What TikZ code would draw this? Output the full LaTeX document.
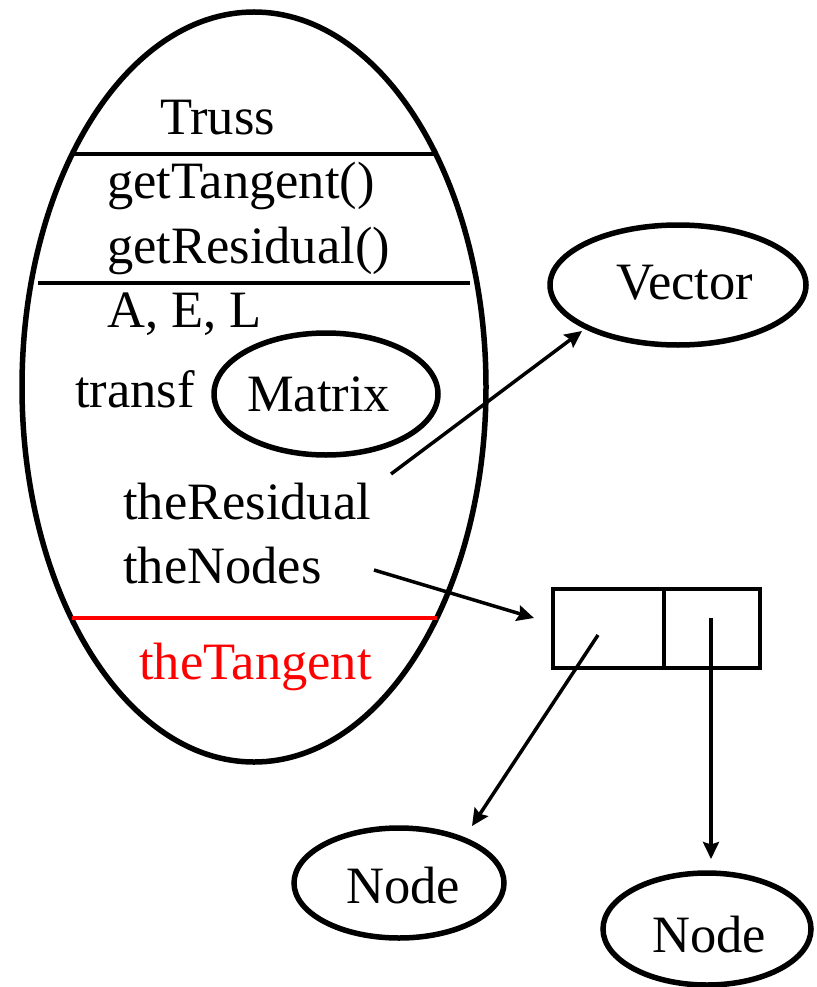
\documentclass[tikz,border=0pt]{standalone}
\usepackage{fontspec}
\setmainfont{Liberation Serif}
\usetikzlibrary{shapes.geometric,arrows.meta}
\tikzset{
  oval/.style={ellipse, draw, line width=5.5pt, inner sep=0pt},
  txt/.style={anchor=base west, inner sep=0pt, font=\rmfamily\fontsize{52.5}{64}\selectfont},
  divider/.style={line width=4.5pt},
  ptr/.style={line width=3.5pt, -{Stealth[length=17pt, width=16pt, inset=2.5pt]}},
  cell/.style={draw, line width=4pt, inner sep=0pt, anchor=north west},
}
\begin{document}
\begin{tikzpicture}[x=1pt, y=-1pt]
\useasboundingbox (0,0) rectangle (816,987);

% Truss object
\node[oval, minimum width=464pt, minimum height=750pt] (truss) at (254,387) {};
\coordinate (d1l) at (74,154);  \coordinate (d1r) at (434,154);
\coordinate (d2l) at (38,283);  \coordinate (d2r) at (470,283);
\coordinate (d3l) at (72,618);  \coordinate (d3r) at (437,618);
\draw[divider] (d1l) -- (d1r);
\draw[divider] (d2l) -- (d2r);
\draw[divider, red] (d3l) -- (d3r);

\node[txt] (name) at (160,135) {Truss};
\node[txt] (m1) at (107,199) {getTangent()};
\node[txt] (m2) at (107,263) {getResidual()};
\node[txt] (aeL) at (107,327) {A, E, L};
\node[txt] (transf) at (75,407) {transf};
\node[oval, minimum width=224pt, minimum height=122pt] (matrix) at (326,394) {};
\node[txt] (matrixlbl) at (247,411) {Matrix};
\node[txt] (res) at (123,519) {theResidual};
\node[txt] (nodes) at (123,583) {theNodes};
\node[txt, text=red] (tang) at (139,679) {theTangent};

% Vector object
\node[oval, minimum width=256pt, minimum height=120pt] (vector) at (678,285) {};
\node[txt] (vectorlbl) at (616,299) {Vector};

% Array of node pointers
\node[cell, minimum width=111pt, minimum height=79pt] (cellA) at (551,587) {};
\node[cell, minimum width=96pt, minimum height=79pt] (cellB) at (662,587) {};

% Node objects
\node[oval, minimum width=210pt, minimum height=110pt] (node1) at (399,883) {};
\node[txt] (node1lbl) at (346,903) {Node};
\node[oval, minimum width=208pt, minimum height=112pt] (node2) at (707,929) {};
\node[txt] (node2lbl) at (652,952) {Node};

% Pointers
\coordinate (resptr) at (391,474);
\coordinate (vecend) at (582,331);
\coordinate (nodesptr) at (374,570);
\coordinate (arrend) at (534,618);
\coordinate (aptr) at (598,635);
\coordinate (n1end) at (472,826);
\coordinate (bptr) at (711,618);
\coordinate (n2end) at (711,859);
\draw[ptr] (resptr) -- (vecend);
\draw[ptr] (nodesptr) -- (arrend);
\draw[ptr] (aptr) -- (n1end);
\draw[ptr] (bptr) -- (n2end);
\end{tikzpicture}
\end{document}
